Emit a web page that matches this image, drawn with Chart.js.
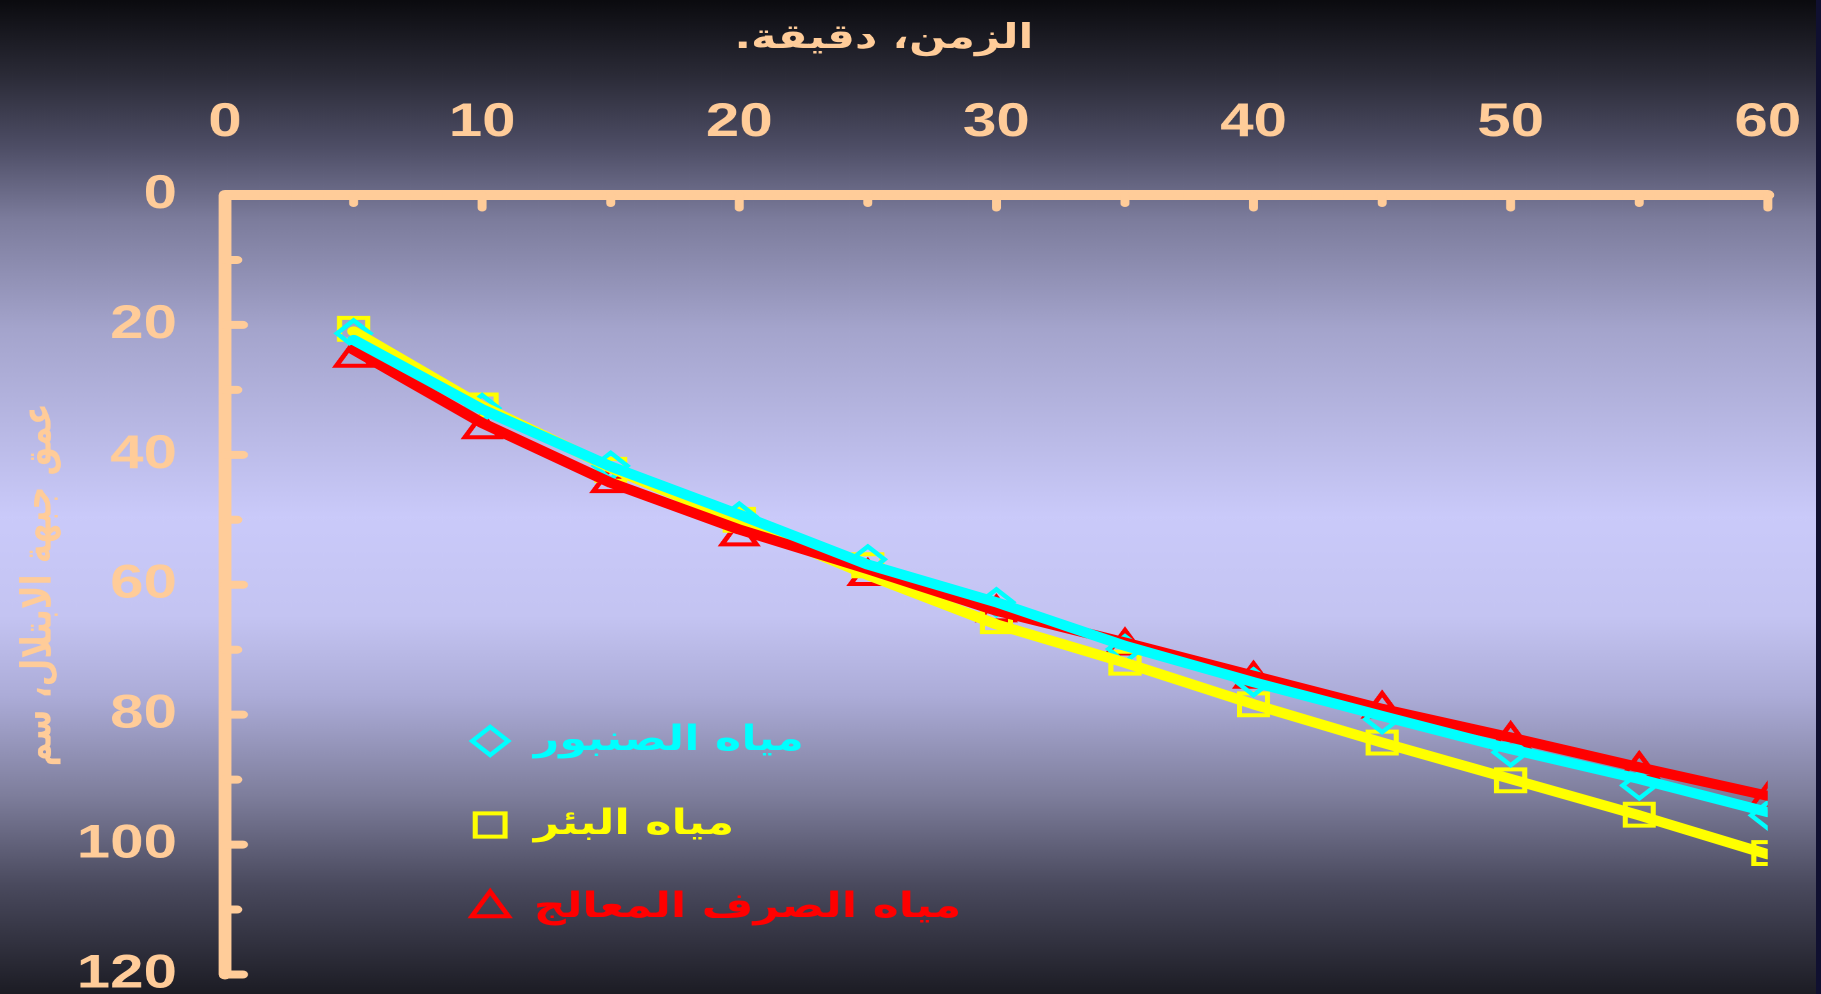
<!DOCTYPE html>
<html>
<head>
<meta charset="utf-8">
<script src="https://cdn.jsdelivr.net/npm/chart.js@4.4.1/dist/chart.umd.min.js"></script>
<style>
  html, body { margin: 0; padding: 0; background: #101030; overflow: hidden; }
  #wrap { width: 1419px; height: 994px; transform: scaleX(1.2798); transform-origin: 0 0; }
</style>
</head>
<body>
<div id="wrap"><canvas id="c" width="1419" height="994" dir="rtl"></canvas></div>
<script>
// Time, minutes
const minutes = [5, 10, 15, 20, 25, 30, 35, 40, 45, 50, 55, 60];

// Measured wetting-front depth, cm (markers)
const tapMarks     = [21.3, 32.8, 41.7, 49.5, 56.1, 62.7, 69.9, 75.0, 80.7, 85.8, 90.9, 95.5];
const wellMarks    = [20.6, 32.4, 42.3, 50.0, 57.0, 65.6, 72.0, 78.4, 84.3, 90.1, 95.4, 101.3];
const treatedMarks = [25.1, 36.1, 44.4, 52.6, 58.7, 64.3, 69.4, 74.5, 79.1, 83.8, 88.4, 93.1];

// Trend curves, cm
const tapLine     = [22.3, 33.0, 41.8, 49.2, 56.9, 62.7, 69.4, 75.0, 80.2, 85.3, 89.9, 95.0];
const wellLine    = [21.0, 32.5, 42.0, 50.3, 58.5, 66.1, 72.0, 78.4, 84.3, 89.9, 95.5, 101.5];
const treatedLine = [23.8, 35.1, 44.3, 51.5, 57.6, 64.0, 68.9, 74.0, 79.1, 83.5, 88.1, 92.5];

// Labels
const seriesNames = ['مياه الصنبور', 'مياه البئر', 'مياه الصرف المعالج'];
const xTitle = 'الزمن، دقيقة.';
const yTitle = 'عمق جبهة الابتلال، سم';
const xTicks = [0, 10, 20, 30, 40, 50, 60];
const yTicks = [0, 20, 40, 60, 80, 100, 120];

const PEACH = '#FFCC99';
const CYAN = '#00FFFF', YELLOW = '#FFFF00', RED = '#FF0000';

const pts = (vals) => minutes.map((m, i) => ({ x: m, y: vals[i] }));

function lineSet(vals, color, order) {
  return {
    data: pts(vals), borderColor: color, borderWidth: 10, pointRadius: 0,
    borderCapStyle: 'round', borderJoinStyle: 'round', tension: 0,
    fill: false, order: order, inLegend: false
  };
}
function markSet(label, vals, color, style, radius, order) {
  return {
    label: label, data: pts(vals), showLine: false, borderColor: color,
    pointStyle: style, pointRadius: radius, pointBorderWidth: 4,
    pointBackgroundColor: 'rgba(0,0,0,0)', pointBorderColor: color,
    order: order, inLegend: true
  };
}

const background = {
  id: 'background',
  beforeDraw(chart) {
    const { ctx, width, height } = chart;
    const g = ctx.createLinearGradient(0, 0, 0, height);
    g.addColorStop(0.00, '#0b0b0f');
    g.addColorStop(0.074, '#2a2a36');
    g.addColorStop(0.148, '#4e4e66');
    g.addColorStop(0.22, '#7c7c9c');
    g.addColorStop(0.33, '#a4a4cc');
    g.addColorStop(0.52, '#cacafa');
    g.addColorStop(0.62, '#c4c4f2');
    g.addColorStop(0.70, '#acacd8');
    g.addColorStop(0.80, '#7e7e9c');
    g.addColorStop(0.89, '#4a4a5e');
    g.addColorStop(1.00, '#1c1c24');
    ctx.save();
    ctx.fillStyle = g;
    ctx.fillRect(0, 0, width, height);
    ctx.restore();
  }
};

// Axis lines with inward tick marks, placed by the scales
const axesDraw = {
  id: 'axesDraw',
  afterDatasetsDraw(chart) {
    const { ctx } = chart;
    const xs = chart.scales.x, ys = chart.scales.y;
    const x0 = xs.getPixelForValue(0), x1 = xs.getPixelForValue(60);
    const y0 = ys.getPixelForValue(0), y1 = ys.getPixelForValue(120);
    ctx.save();
    ctx.strokeStyle = PEACH;
    ctx.lineCap = 'round';
    ctx.lineJoin = 'round';
    ctx.lineWidth = 10;
    ctx.beginPath();
    ctx.moveTo(x0, y1);
    ctx.lineTo(x0, y0);
    ctx.lineTo(x1, y0);
    ctx.stroke();
    ctx.lineWidth = 7;
    for (let m = 5; m <= 60; m += 5) {
      const px = xs.getPixelForValue(m);
      const len = m % 10 === 0 ? 13 : 8.5;
      ctx.beginPath();
      ctx.moveTo(px, y0);
      ctx.lineTo(px, y0 + len);
      ctx.stroke();
    }
    ctx.lineWidth = 8;
    for (let v = 10; v <= 120; v += 10) {
      const py = ys.getPixelForValue(v);
      const len = v % 20 === 0 ? 14 : 9.5;
      ctx.beginPath();
      ctx.moveTo(x0, py);
      ctx.lineTo(x0 + len, py);
      ctx.stroke();
    }
    ctx.restore();
  }
};

// Legend drawn inside the plot area
const innerLegend = {
  id: 'innerLegend',
  afterDraw(chart) {
    const { ctx } = chart;
    const items = chart.data.datasets.filter(d => d.inLegend);
    const rowY = [741, 825, 908];
    const mx = 383, tx = 417;
    ctx.save();
    items.forEach((d, i) => {
      const y = rowY[i];
      ctx.strokeStyle = d.borderColor;
      ctx.fillStyle = 'rgba(0,0,0,0)';
      ctx.lineWidth = 4;
      Chart.helpers.drawPoint(ctx, { pointStyle: d.pointStyle, radius: d.pointRadius + 1, rotation: 0, borderWidth: 4 }, mx, y);
      ctx.font = 'bold 34.8px "DejaVu Sans"';
      ctx.fillStyle = d.borderColor;
      ctx.textBaseline = 'middle';
      ctx.direction = 'rtl';
      const w = ctx.measureText(d.label).width;
      ctx.textAlign = 'right';
      ctx.fillText(d.label, tx + w, y);
    });
    ctx.restore();
  }
};

new Chart(document.getElementById('c'), {
  type: 'line',
  data: {
    datasets: [
      lineSet(tapLine, CYAN, 0),
      lineSet(treatedLine, RED, 1),
      lineSet(wellLine, YELLOW, 2),
      markSet(seriesNames[0], tapMarks, CYAN, 'rectRot', 13, 3),
      markSet(seriesNames[1], wellMarks, YELLOW, 'rect', 15.5, 4),
      markSet(seriesNames[2], treatedMarks, RED, 'triangle', 15.5, 5)
    ]
  },
  plugins: [background, axesDraw, innerLegend],
  options: {
    responsive: false,
    animation: false,
    devicePixelRatio: 2,
    layout: { padding: { left: 0, right: 37.7, top: 0, bottom: 18 } },
    plugins: {
      legend: { display: false },
      tooltip: { enabled: false },
      title: {
        display: true, text: xTitle, color: PEACH,
        font: { family: 'DejaVu Sans', size: 34, weight: 'bold', lineHeight: 1.2 },
        padding: { top: 19, bottom: 3 }
      }
    },
    scales: {
      x: {
        type: 'linear', position: 'top', min: 0, max: 60,
        afterBuildTicks: (s) => { s.ticks = xTicks.map(v => ({ value: v })); },
        afterFit: (s) => { s.height = 195 - (19 + 3 + 34 * 1.2); s.paddingLeft = 0; s.paddingRight = 0; },
        grid: { display: false },
        border: { display: false },
        ticks: {
          color: PEACH, padding: 36, maxRotation: 0, autoSkip: false,
          font: { family: 'Liberation Sans', size: 47, weight: 'bold', lineHeight: 1.2 }
        }
      },
      y: {
        type: 'linear', reverse: true, min: 0, max: 120,
        afterBuildTicks: (s) => { s.ticks = yTicks.map(v => ({ value: v })); },
        afterFit: (s) => { s.width = 175.8; s.paddingTop = 0; s.paddingBottom = 0; },
        grid: { display: false },
        border: { display: false },
        title: {
          display: true, text: yTitle, color: PEACH,
          font: { family: 'DejaVu Sans', size: 32, weight: 'bold', lineHeight: 1.2 },
          padding: { top: 12, bottom: 0 }
        },
        ticks: {
          color: PEACH, padding: 29.5, autoSkip: false,
          font: { family: 'Liberation Sans', size: 47, weight: 'bold', lineHeight: 1.2 }
        }
      }
    }
  }
});
</script>
</body>
</html>
